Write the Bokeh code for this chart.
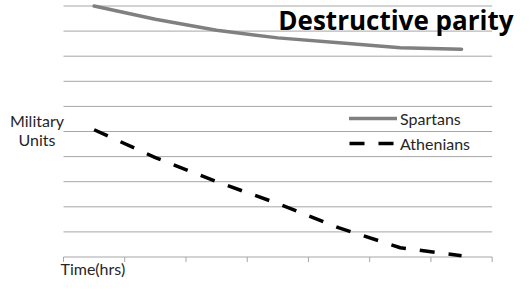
from bokeh.plotting import figure
from bokeh.models import Range1d, Label, Legend, LegendItem
from bokeh.embed import file_html
from bokeh.resources import INLINE

# ---- data ----
hours = [1, 2, 3, 4, 5, 6, 7]
spartans = [10.0, 9.47, 9.03, 8.73, 8.54, 8.34, 8.28]
athenians = [5.07, 3.96, 3.0, 2.13, 1.16, 0.37, 0.05]
grid_ticks = [0, 1, 2, 3, 4, 5, 6, 7, 8, 9, 10]
boundary_ticks = [0.5, 1.5, 2.5, 3.5, 4.5, 5.5, 6.5, 7.5]
title_text = "Destructive parity"
x_title = "Time(hrs)"

FONT = "Lato"
TXT = "#262626"
GRID = "#a6a6a6"

# frame covers the whole figure; ranges chosen so the plot area sits where the reference has it
X0, X1 = 0.5, 7.5
PX_X = 61.24          # px per category
PX_Y = 25.1           # px per unit
W, H = 514, 281
x_start = X0 - 63 / PX_X
y_start = -(H - 256.5) / PX_Y

p = figure(width=W, height=H, output_backend="svg", toolbar_location=None,
           x_axis_type=None, y_axis_type=None,
           x_range=Range1d(x_start, x_start + W / PX_X),
           y_range=Range1d(y_start, y_start + H / PX_Y),
           min_border=0)
p.outline_line_color = None
p.background_fill_color = "white"
p.border_fill_color = "white"
p.xgrid.visible = False
p.ygrid.visible = False

# horizontal gridlines (value 0 doubles as the category axis line)
p.segment(x0=[X0] * len(grid_ticks), x1=[X1] * len(grid_ticks), y0=grid_ticks, y1=grid_ticks,
          line_color=GRID, line_width=1)
# category boundary tick marks, 5px below the axis
p.segment(x0=boundary_ticks, x1=boundary_ticks, y0=[0] * len(boundary_ticks),
          y1=[-5 / PX_Y] * len(boundary_ticks), line_color=GRID, line_width=1)

r1 = p.line(hours, spartans, line_color="#808080", line_width=3.5, line_cap="round",
            line_join="round")
r2 = p.line(hours, athenians, line_color="black", line_width=3.5, line_dash="15 14")

legend = Legend(items=[LegendItem(label="Spartans", renderers=[r1]),
                       LegendItem(label="Athenians", renderers=[r2])],
                location=(349, 128), glyph_width=48, glyph_height=20, label_height=20,
                spacing=5, padding=0, margin=0, border_line_color=None,
                background_fill_alpha=0, label_text_font=FONT, label_text_font_size="16px",
                label_standoff=3, label_text_color=TXT)
p.add_layout(legend, "center")

def dx(ix):
    return x_start + ix / PX_X

def dy(iy):
    return y_start + (H - iy) / PX_Y

p.add_layout(Label(x=dx(513), y=dy(19), text=title_text, text_align="right",
                   text_baseline="alphabetic", text_font="Open Sans", text_font_style="bold",
                   text_font_size="26px", text_color="black"))
p.add_layout(Label(x=dx(36.5), y=dy(120), text="Military", text_align="center",
                   text_baseline="alphabetic", text_font=FONT,
                   text_font_size="16px", text_color=TXT))
p.add_layout(Label(x=dx(36.5), y=dy(139), text="Units", text_align="center",
                   text_baseline="alphabetic", text_font=FONT,
                   text_font_size="16px", text_color=TXT))
p.add_layout(Label(x=dx(60), y=dy(268), text=x_title, text_align="left",
                   text_baseline="alphabetic", text_font=FONT,
                   text_font_size="16px", text_color=TXT))

open("out.html", "w").write(file_html(p, INLINE))
